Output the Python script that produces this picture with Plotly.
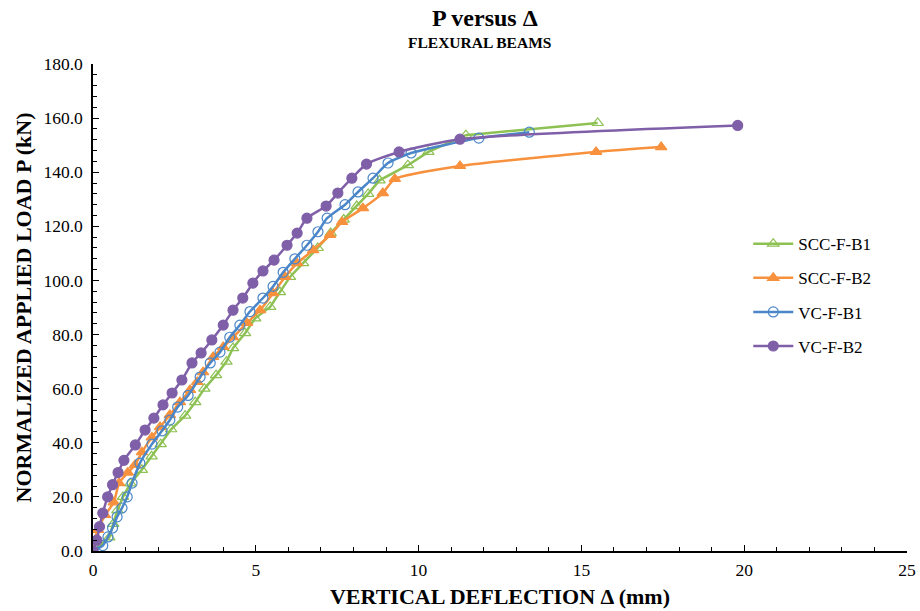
import plotly.graph_objects as go

# ---- data ----
scc_b1_x = [0, 0.5, 0.62, 0.75, 0.92, 1.15, 1.5, 1.8, 2.08, 2.4, 2.83, 3.14, 3.42, 3.78, 4.1, 4.3,
            4.67, 4.98, 5.44, 5.74, 6.05, 6.45, 6.9, 7.3, 7.7, 8.1, 8.45, 8.8, 9.67, 10.3, 11.45, 15.5]
scc_b1_p = [0, 5, 10, 15, 20, 25, 30, 35, 39.5, 45, 50, 55, 60, 65, 70, 75,
            80.5, 86, 90.2, 95.7, 101.3, 106.4, 112, 117.5, 122.5, 127.5, 132, 137, 142.6, 147.5, 153.7, 158.2]

scc_b2_x = [0, 0.02, 0.15, 0.37, 0.64, 0.8, 1.07, 1.29, 1.5, 1.81, 2.06, 2.36, 2.67, 2.98, 3.2, 3.38,
            3.69, 4.0, 4.3, 4.73, 5.13, 5.53, 5.9, 6.27, 6.76, 7.28, 7.65, 8.29, 8.9, 9.27, 11.27, 15.45, 17.45]
scc_b2_p = [0, 3.3, 7.8, 13.3, 18, 25.1, 29, 31.8, 36.5, 42, 45.8, 50.3, 55, 59.5, 62.5, 66.1,
            71.7, 75.4, 79, 84.3, 89, 95.3, 101.3, 106.4, 111.2, 116.8, 121.6, 126.7, 132.3, 137.5, 142.3, 147.5, 149.3]

vc_b1_x = [0, 0.3, 0.46, 0.6, 0.74, 0.89, 1.05, 1.2, 1.44, 1.81, 2.12, 2.36, 2.6, 2.92, 3.29, 3.6, 3.9,
           4.2, 4.51, 4.82, 5.22, 5.53, 5.84, 6.2, 6.57, 6.91, 7.19, 7.74, 8.14, 8.6, 9.06, 9.77, 11.85, 13.4]
vc_b1_p = [0, 2, 5.2, 8.5, 12.6, 15.9, 20, 25.1, 32.5, 39.5, 44.4, 48.4, 53.2, 57.5, 64.3, 69.5, 73.5,
           79, 83.5, 88.5, 93.5, 97.8, 103, 108, 113, 118, 123, 128, 132.7, 137.8, 143.4, 147.1, 152.6, 154.8]

vc_b2_x = [0, 0.12, 0.2, 0.3, 0.45, 0.6, 0.77, 0.95, 1.3, 1.6, 1.87, 2.15, 2.43, 2.73, 3.04, 3.32,
           3.65, 4.0, 4.3, 4.6, 4.91, 5.22, 5.56, 5.96, 6.27, 6.57, 7.16, 7.52, 7.95, 8.4, 9.4, 11.27, 19.8]
vc_b2_p = [0, 4, 9, 14, 20, 24.5, 29, 33.5, 39.2, 44.7, 49.1, 54, 58.4, 63.2, 69.5, 73.2,
           78, 83.5, 89, 93.5, 99, 103.5, 107.5, 113, 117.5, 123, 127.5, 132.3, 137.8, 143, 147.5, 152.2, 157.3]

series = [
    ("SCC-F-B1", scc_b1_x, scc_b1_p, "#8DC153", "triangle-up-open", "linear"),
    ("SCC-F-B2", scc_b2_x, scc_b2_p, "#F8913D", "triangle-up", "spline"),
    ("VC-F-B1", vc_b1_x, vc_b1_p, "#4A86C8", "circle-open", "spline"),
    ("VC-F-B2", vc_b2_x, vc_b2_p, "#7F5FA8", "circle", "spline"),
]

FONT = "Liberation Serif, Times New Roman, serif"

fig = go.Figure()
for i, (name, xs, ps, col, sym, shp) in enumerate(series):
    fig.add_trace(go.Scatter(
        x=xs, y=ps, name=name, mode="lines+markers",
        line=dict(color=col, width=2.5, shape=shp, smoothing=0.6),
        marker=dict(symbol=sym, size=10, color=col, line=dict(color=col, width=1.2)),
        legendgroup=f"g{i}",
    ))

axis_common = dict(
    showline=True, linecolor="black", linewidth=1.5, showgrid=False, zeroline=False,
    ticks="inside", ticklen=6, tickcolor="black", tickwidth=1.2, automargin=False,
    tickfont=dict(family=FONT, size=17.5, color="black"),
)

fig.update_xaxes(range=[0, 25], dtick=5, tick0=0, ticklabelstandoff=2,
                 minor=dict(dtick=1, ticks="inside", ticklen=4, tickcolor="black", tickwidth=1),
                 title=dict(text="<b>VERTICAL DEFLECTION Δ (mm)</b>", font=dict(family=FONT, size=22, color="black"), standoff=10),
                 **axis_common)
fig.update_yaxes(range=[0, 180], dtick=20, tick0=0, tickformat=".1f", ticklabelstandoff=5,
                 minor=dict(dtick=4, ticks="inside", ticklen=4, tickcolor="black", tickwidth=1),
                 title=dict(text="<b>NORMALIZED APPLIED LOAD P (kN)</b>", font=dict(family=FONT, size=22, color="black"), standoff=6),
                 **axis_common)

fig.update_layout(
    width=920, height=611,
    margin=dict(l=93, r=13, t=64, b=60),
    paper_bgcolor="white", plot_bgcolor="white",
    font=dict(family=FONT, color="black"),
    showlegend=True,
    legend=dict(x=0.805, y=0.667, xanchor="left", yanchor="top",
                font=dict(family=FONT, size=17, color="black"),
                tracegroupgap=9, itemwidth=40, bgcolor="rgba(0,0,0,0)"),
    annotations=[
        dict(text="<b>P versus Δ</b>", x=0.482, y=1.0, xref="paper", yref="paper", yanchor="middle",
             yshift=46, showarrow=False, font=dict(family=FONT, size=24, color="black")),
        dict(text="<b>FLEXURAL BEAMS</b>", x=0.475, y=1.0, xref="paper", yref="paper", yanchor="middle",
             yshift=22, showarrow=False, font=dict(family=FONT, size=15.5, color="black")),
    ],
)

fig.write_html("out.html", config={"displayModeBar": False},
               post_script="document.body.style.margin='0';document.body.style.overflow='hidden';")
